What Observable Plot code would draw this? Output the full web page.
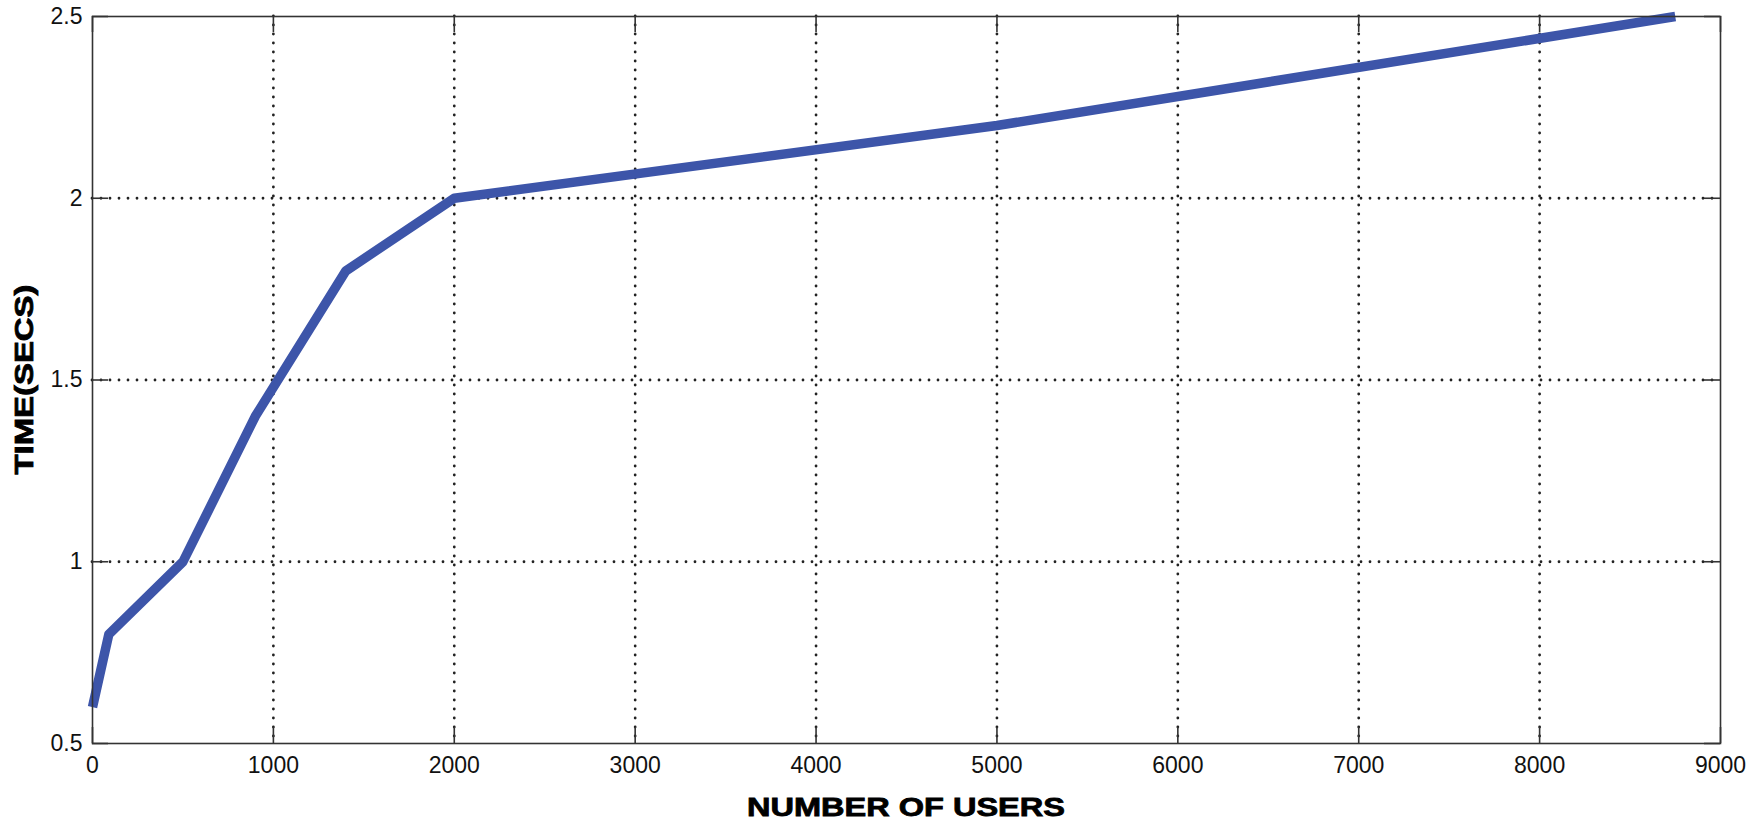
<!DOCTYPE html>
<html>
<head>
<meta charset="utf-8">
<script src="https://cdn.jsdelivr.net/npm/d3@7"></script>
<script src="https://cdn.jsdelivr.net/npm/@observablehq/plot@0.6"></script>
<style>
  html, body { margin: 0; padding: 0; background: #fff; }
  #chart svg { display: block; }
</style>
</head>
<body>
<div id="chart"></div>
<script>
// Data
const users = [0, 90, 500, 900, 1400, 2000, 5000, 8750];
const timeSecs = [0.6, 0.8, 1.0, 1.4, 1.8, 2.0, 2.2, 2.5];
const xTicks = [0, 1000, 2000, 3000, 4000, 5000, 6000, 7000, 8000, 9000];
const yTicks = [0.5, 1, 1.5, 2, 2.5];
const xLabel = "NUMBER OF USERS";
const yLabel = "TIME(SECS)";

const data = users.map((u, i) => ({users: u, time: timeSecs[i]}));

const W = 1753, H = 825;
const mL = 92, mR = 33, mT = 16, mB = 82;
const innerW = W - mL - mR, innerH = H - mT - mB;
const tickLen = 16;
const gridStyle = {stroke: "#222", strokeOpacity: 1, strokeWidth: 2.8, strokeDasharray: "0,9", strokeLinecap: "round"};

const chart = Plot.plot({
  width: W,
  height: H,
  marginLeft: mL,
  marginRight: mR,
  marginTop: mT,
  marginBottom: mB,
  style: {fontFamily: "'Liberation Sans', Arial, sans-serif", fontSize: "23px", color: "#111", background: "#fff"},
  x: {domain: [0, 9000]},
  y: {domain: [0.5, 2.5]},
  marks: [
    Plot.gridX(xTicks.slice(1, -1), gridStyle),
    Plot.gridY(yTicks.slice(1, -1), gridStyle),
    Plot.axisX(xTicks, {anchor: "bottom", tickSize: 0, tickPadding: 13, label: null, tickFormat: d => String(d), fontSize: 23}),
    Plot.axisY(yTicks, {anchor: "left", tickSize: 0, tickPadding: 10, label: null, tickFormat: d => String(d), fontSize: 23}),
    // inward ticks on all four sides
    Plot.tickX(xTicks, {x: d => d, insetTop: innerH - tickLen, stroke: "#333", strokeWidth: 1.6}),
    Plot.tickX(xTicks, {x: d => d, insetBottom: innerH - tickLen, stroke: "#333", strokeWidth: 1.6}),
    Plot.tickY(yTicks, {y: d => d, insetRight: innerW - tickLen, stroke: "#333", strokeWidth: 1.6}),
    Plot.tickY(yTicks, {y: d => d, insetLeft: innerW - tickLen, stroke: "#333", strokeWidth: 1.6}),
    Plot.line(data, {x: "users", y: "time", stroke: "#3D55A9", strokeWidth: 9.5, strokeLinejoin: "round", strokeLinecap: "butt"}),
    Plot.frame({stroke: "#333", strokeWidth: 1.6})
  ]
});

// axis titles (stretched bold, as in the reference)
const svg = d3.select(chart);
svg.append("text")
  .attr("x", mL + innerW / 2)
  .attr("y", H - 9)
  .attr("text-anchor", "middle")
  .attr("font-family", "'Liberation Sans', Arial, sans-serif")
  .attr("font-weight", "bold")
  .attr("font-size", 26)
  .attr("fill", "#000")
  .attr("stroke", "#000")
  .attr("stroke-width", 0.8)
  .attr("textLength", 318)
  .attr("lengthAdjust", "spacingAndGlyphs")
  .text(xLabel);

svg.append("text")
  .attr("transform", `translate(33,${mT + innerH / 2}) rotate(-90)`)
  .attr("text-anchor", "middle")
  .attr("font-family", "'Liberation Sans', Arial, sans-serif")
  .attr("font-weight", "bold")
  .attr("font-size", 26)
  .attr("fill", "#000")
  .attr("stroke", "#000")
  .attr("stroke-width", 0.8)
  .attr("textLength", 190)
  .attr("lengthAdjust", "spacingAndGlyphs")
  .text(yLabel);

document.getElementById("chart").appendChild(chart);
</script>
</body>
</html>
